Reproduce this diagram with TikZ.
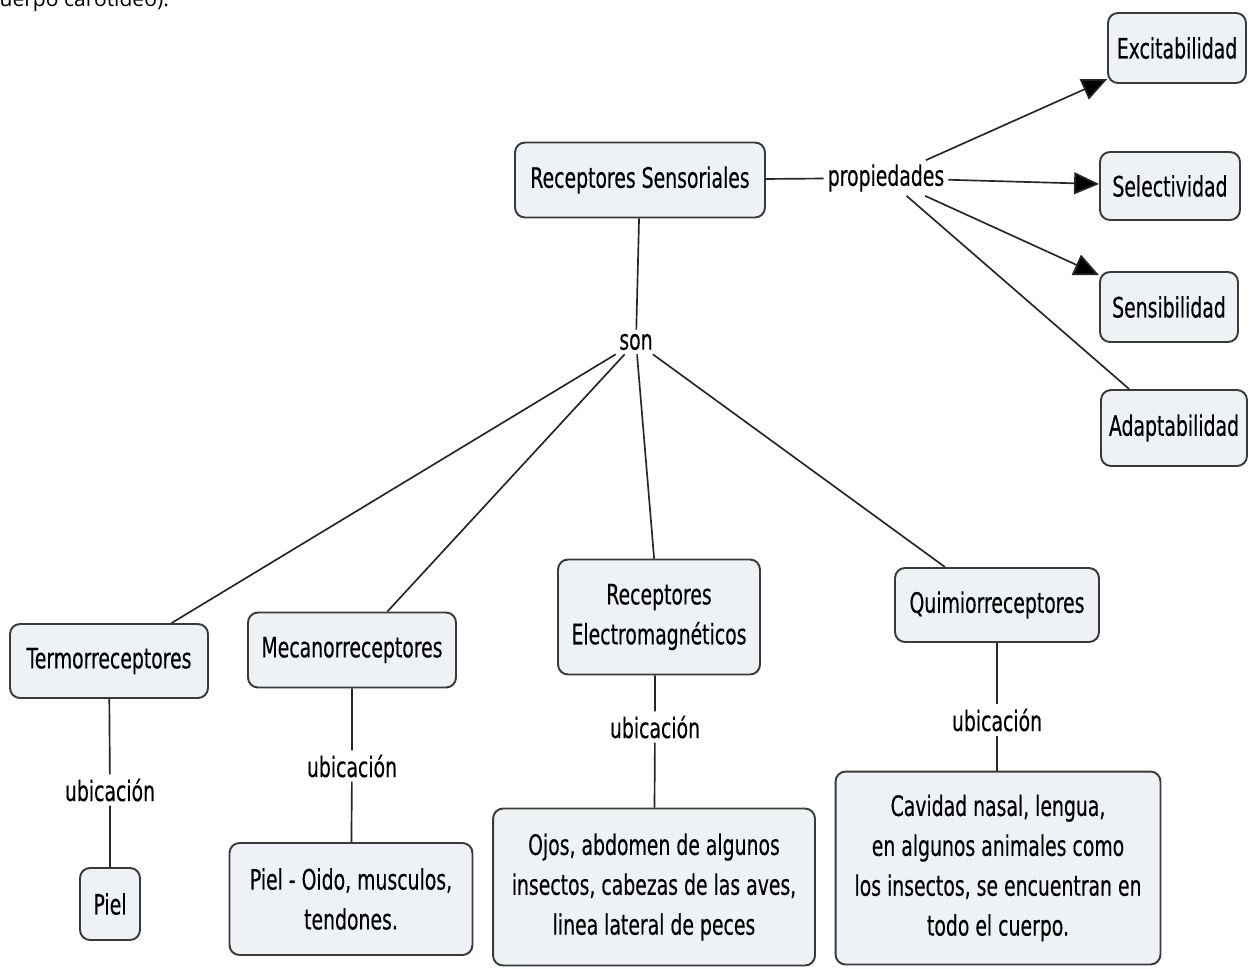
\documentclass[tikz,border=0pt]{standalone}
\usepackage{fontspec}
\setmainfont{DejaVu Sans}[FakeStretch=0.67,FakeBold=0.3]
\newfontfamily\cutfont{Open Sans}
\usetikzlibrary{arrows.meta}
\definecolor{boxfill}{HTML}{EEF2F6}
\definecolor{boxline}{HTML}{3A3A3A}
\begin{document}
\begin{tikzpicture}[x=0.02cm,y=-0.02cm,thick,
    font=\fontsize{16}{22.7}\selectfont,
    concept/.style={draw=boxline,line width=1.1pt,fill=boxfill,rounded corners=0.2cm,
      align=center,inner sep=1pt},
    linkword/.style={fill=white,inner sep=2pt},
    link/.style={draw=black!85,line width=0.95pt}]
  \clip (0,0) rectangle (1248,968);
  \node[anchor=base west,font=\cutfont\fontsize{12}{14}\selectfont] (cut) at (-17,6) {cuerpo carotideo).};

  \begin{scope}[every node/.style={concept}]
    \node[minimum width=5cm,minimum height=1.5cm] (RS) at (640,180) {Receptores Sensoriales};
    \node[minimum width=2.76cm,minimum height=1.4cm] (Exc) at (1177,48) {Excitabilidad};
    \node[minimum width=2.8cm,minimum height=1.36cm] (Sel) at (1170,186) {Selectividad};
    \node[minimum width=2.76cm,minimum height=1.4cm] (Sen) at (1169,307) {Sensibilidad};
    \node[minimum width=2.92cm,minimum height=1.52cm] (Ada) at (1174,428) {Adaptabilidad};
    \node[minimum width=3.96cm,minimum height=1.48cm] (Termo) at (109,661) {Termorreceptores};
    \node[minimum width=4.16cm,minimum height=1.5cm] (Meca) at (352,650) {Mecanorreceptores};
    \node[minimum width=4.04cm,minimum height=2.3cm] (Electro) at (659,617) {Receptores\\Electromagnéticos};
    \node[minimum width=4.08cm,minimum height=1.48cm] (Quimio) at (997,605) {Quimiorreceptores};
    \node[minimum width=1.2cm,minimum height=1.44cm] (Piel) at (110,904) {Piel};
    \node[minimum width=4.86cm,minimum height=2.24cm] (PielOido) at (351,899) {Piel - Oido, musculos,\\tendones.};
    \node[minimum width=6.44cm,minimum height=3.14cm] (Ojos) at (654,887) {Ojos, abdomen de algunos\\insectos, cabezas de las aves,\\linea lateral de peces};
    \node[minimum width=6.5cm,minimum height=3.86cm] (Cavidad) at (998,868) {Cavidad nasal, lengua,\\en algunos animales como\\los insectos, se encuentran en\\todo el cuerpo.};
  \end{scope}

  \begin{scope}[every node/.style={linkword}]
    \node (prop) at (886,178) {propiedades};
    \node (son) at (636,342) {son};
    \node (ubiT) at (110,790) {ubicación};
    \node (ubiM) at (352,766) {ubicación};
    \node (ubiE) at (655,727) {ubicación};
    \node (ubiQ) at (997,720) {ubicación};
  \end{scope}

  \path[link] (RS) -- (prop);
  \foreach \prop in {Exc, Sel, Sen} {
    \path[link,-{Triangle[length=0.5cm,width=0.44cm]}] (prop) edge (\prop);
  }
  \path[link] (prop) -- (Ada);

  \path[link] (RS) -- (son);
  \foreach \tipo in {Termo, Meca, Electro, Quimio} {
    \path[link] (son) edge (\tipo);
  }

  \path[link] (Termo) -- (ubiT) -- (Piel);
  \path[link] (Meca) -- (ubiM) -- (PielOido);
  \path[link] (ubiE |- Electro.south) -- (ubiE) -- (Ojos);
  \path[link] (Quimio) -- (ubiQ) -- (ubiQ |- Cavidad.north);
\end{tikzpicture}
\end{document}
